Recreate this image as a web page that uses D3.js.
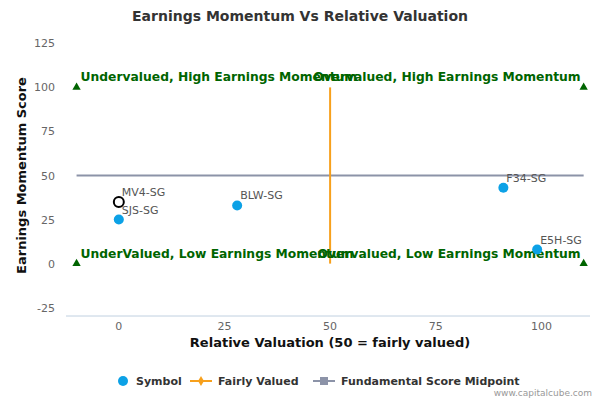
<!DOCTYPE html><html><head><script src="https://cdn.jsdelivr.net/npm/d3@7"></script>
<style>body{margin:0;background:#fff}text{font-family:"DejaVu Sans",sans-serif}</style></head><body>
<svg id="c" width="600" height="400"></svg>
<script>
const symbols=["MV4-SG","SJS-SG","BLW-SG","F34-SG","E5H-SG"];
const xVals=[0,0,28,91,99];
const yVals=[35,25,33,43,8];
const xTicks=[0,25,50,75,100];
const yTicks=[-25,0,25,50,75,100,125];
const quadLabels=["Undervalued, High Earnings Momentum","Overvalued, High Earnings Momentum","UnderValued, Low Earnings Momentum","Overvalued, Low Earnings Momentum"];
const quadX=[-10,110,-10,110], quadY=[100,100,0,0];
const svg=d3.select("#c");
const x=d3.scaleLinear().domain([-12.5,111.5]).range([66,590]);
const y=d3.scaleLinear().domain([-32,132]).range([320,31]);
svg.append("text").attr("x",300).attr("y",21).attr("text-anchor","middle").attr("font-size",14).attr("font-weight","bold").attr("fill","#333").text("Earnings Momentum Vs Relative Valuation");
const g=svg.append("g");
g.selectAll(".yt").data(yTicks).join("text").attr("x",55).attr("y",d=>y(d)+4).attr("text-anchor","end").attr("font-size",11).attr("fill","#666").text(d=>d);
g.selectAll(".xt").data(xTicks).join("text").attr("x",d=>x(d)).attr("y",330).attr("text-anchor","middle").attr("font-size",11).attr("fill","#666").text(d=>d);
g.append("line").attr("x1",66).attr("x2",590).attr("y1",316).attr("y2",316).attr("stroke","#c0d0e0");
svg.append("text").attr("x",330).attr("y",347).attr("text-anchor","middle").attr("font-size",13).attr("font-weight","bold").attr("fill","#111").text("Relative Valuation (50 = fairly valued)");
svg.append("text").attr("transform",`translate(26,${y(50)}) rotate(-90)`).attr("text-anchor","middle").attr("font-size",13).attr("font-weight","bold").attr("fill","#111").text("Earnings Momentum Score");
g.append("line").attr("x1",x(-10)).attr("x2",x(110)).attr("y1",y(50)).attr("y2",y(50)).attr("stroke","#8c93a8").attr("stroke-width",2);
g.append("line").attr("x1",x(50)).attr("x2",x(50)).attr("y1",y(100)).attr("y2",y(0)).attr("stroke","#f7a01c").attr("stroke-width",2);
const tri=[[-10,100],[110,100],[-10,0],[110,0]];
g.selectAll(".tri").data(tri).join("path").attr("d",d3.symbol(d3.symbolTriangle,30)).attr("transform",d=>`translate(${x(d[0])},${y(d[1])})`).attr("fill","#006400");
g.selectAll(".ql").data(quadLabels).join("text").attr("x",(d,i)=>x(quadX[i])+(i%2?-3:4)).attr("y",(d,i)=>y(quadY[i])-6).attr("text-anchor",(d,i)=>i%2?"end":"start").attr("font-size",12.3).attr("font-weight","bold").attr("fill","#006400").text(d=>d);
symbols.forEach((s,i)=>{
  const hollow=i===0;
  g.append("circle").attr("cx",x(xVals[i])).attr("cy",y(yVals[i])).attr("r",5).attr("fill",hollow?"#fff":"#0ca1e6").attr("stroke",hollow?"#000":"none").attr("stroke-width",2);
  g.append("text").attr("x",x(xVals[i])+3).attr("y",y(yVals[i])-6).attr("font-size",11).attr("fill","#555").text(s);
});
const lg=svg.append("g").attr("font-size",11).attr("font-weight","bold").attr("fill","#333");
lg.append("circle").attr("cx",123).attr("cy",381).attr("r",5).attr("fill","#0ca1e6");
lg.append("text").attr("x",136).attr("y",385).text("Symbol");
lg.append("line").attr("x1",190).attr("x2",212).attr("y1",381).attr("y2",381).attr("stroke","#f7a01c").attr("stroke-width",2);
lg.append("path").attr("d",d3.symbol(d3.symbolDiamond,30)).attr("transform","translate(201,381)").attr("fill","#f7a01c");
lg.append("text").attr("x",218).attr("y",385).text("Fairly Valued");
lg.append("line").attr("x1",313).attr("x2",335).attr("y1",381).attr("y2",381).attr("stroke","#8c93a8").attr("stroke-width",2);
lg.append("rect").attr("x",320).attr("y",377).attr("width",8).attr("height",8).attr("fill","#8c93a8");
lg.append("text").attr("x",341).attr("y",385).text("Fundamental Score Midpoint");
svg.append("text").attr("x",592).attr("y",396).attr("text-anchor","end").attr("font-size",9).attr("fill","#999").text("www.capitalcube.com");
</script></body></html>
